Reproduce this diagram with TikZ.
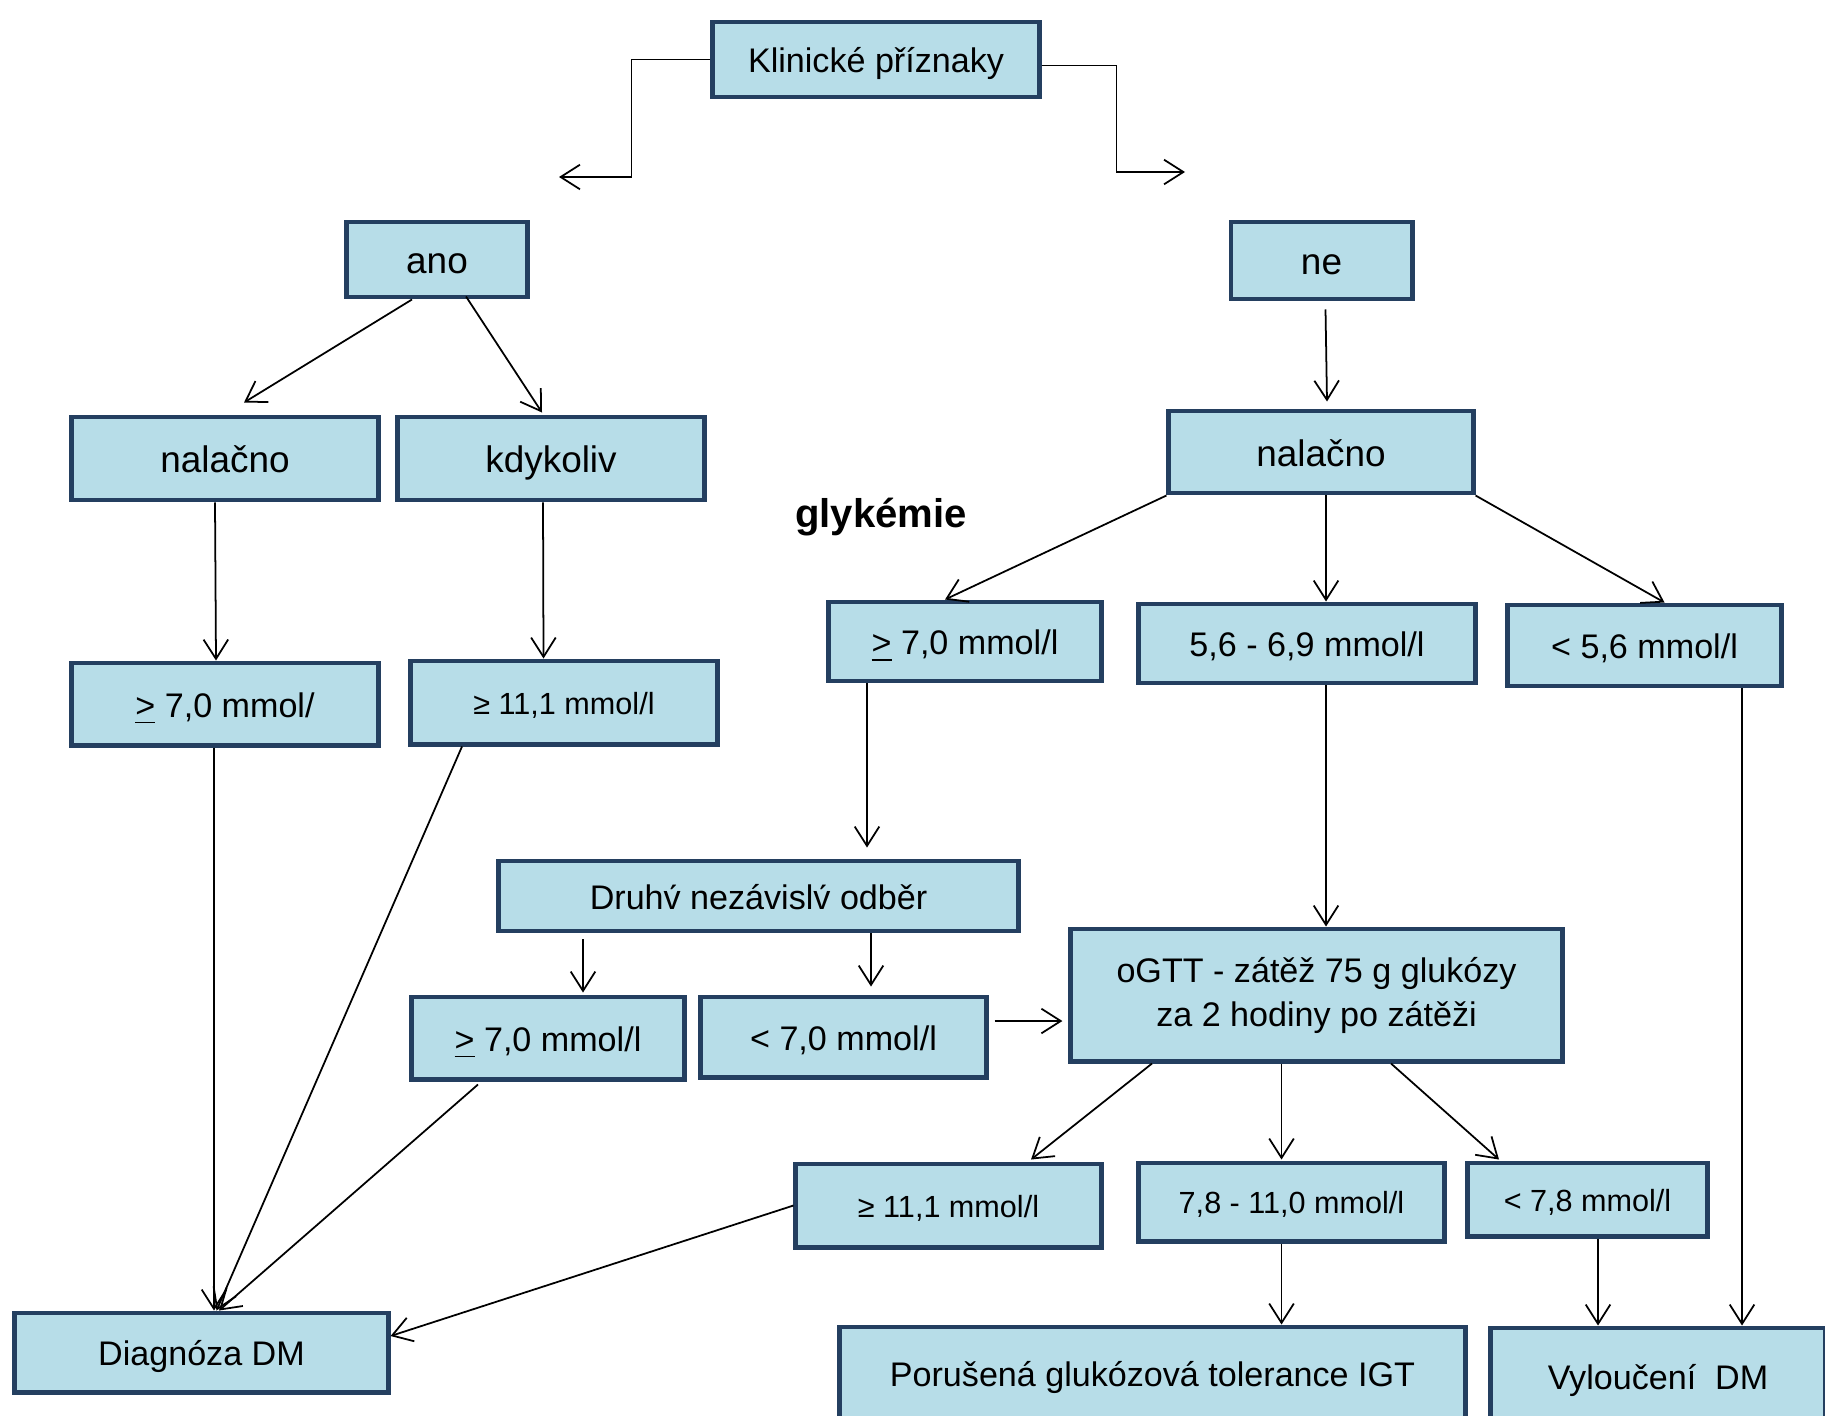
\documentclass[tikz,border=0pt]{standalone}
\usepackage{fontspec}
\setmainfont{Liberation Sans}
\usepackage{xcolor}
\usepackage{tikz}
\usetikzlibrary{arrows.meta, positioning, calc}

\definecolor{boxfill}{RGB}{183,221,232}
\definecolor{boxline}{RGB}{36,63,96}

\begin{document}
\begin{tikzpicture}[
    x=0.01cm, y=-0.01cm,
    box/.style={draw=boxline, line width=1.4pt, fill=boxfill, inner sep=0pt, align=center,
        font=\fontsize{9.7}{12.5}\selectfont, text height=7.6pt, text depth=0pt},
    bigtext/.style={font=\fontsize{10.5}{12.5}\selectfont, text height=8.2pt},
    smalltext/.style={font=\fontsize{8.7}{11}\selectfont, text height=6.8pt},
    line/.style={-{Straight Barb[length=5.5pt, width=7pt]}, line width=0.5pt}
]
\useasboundingbox (0,0) rectangle (1825,1415);

\node[box, minimum width=3.26cm, minimum height=0.75cm] (klin) at (876,59.5) {Klinické příznaky};
\coordinate (anoIn) at (559,177);
\coordinate (neIn) at (1185,172);

\node[box, bigtext, minimum width=1.8cm, minimum height=0.75cm] (ano) at (437,259.5) {ano};
\node[box, bigtext, minimum width=1.81cm, minimum height=0.77cm] (ne) at (1321.5,260.5) {ne};

\node[box, bigtext, minimum width=3.06cm, minimum height=0.83cm] (nalL) at (225,458.5) {nalačno};
\node[box, bigtext, minimum width=3.06cm, minimum height=0.83cm] (kdy) at (551,458.5) {kdykoliv};
\node[box, bigtext, minimum width=3.04cm, minimum height=0.82cm] (nalR) at (1321,452) {nalačno};

\node[font=\bfseries\fontsize{11.4}{13}\selectfont] (glyk) at (881,517) {glykémie};

\node[box, minimum width=3.06cm, minimum height=0.82cm] (gL) at (225,704) {\underline{>} 7,0 mmol/};
\node[box, smalltext, minimum width=3.06cm, minimum height=0.83cm] (g11) at (564,702.5) {≥ 11,1 mmol/l};
\node[box, minimum width=2.72cm, minimum height=0.79cm] (gM) at (965,641.5) {\underline{>} 7,0 mmol/l};
\node[box, minimum width=3.36cm, minimum height=0.79cm] (mid) at (1307,643.5) {5,6 - 6,9 mmol/l};
\node[box, minimum width=2.73cm, minimum height=0.81cm] (lt56) at (1644.5,645.5) {< 5,6 mmol/l};

\node[box, minimum width=5.19cm, minimum height=0.70cm] (druhy) at (758.5,896) {Druh\'v nez\'avisl\'v odběr};
\node[box, minimum width=2.72cm, minimum height=0.82cm] (g7b) at (548,1038) {\underline{>} 7,0 mmol/l};
\node[box, minimum width=2.85cm, minimum height=0.80cm] (lt7) at (843.5,1037) {< 7,0 mmol/l};
\node[box, text height=, text depth=, minimum width=4.91cm, minimum height=1.32cm] (ogtt) at (1316.5,995) {oGTT - zátěž 75 g glukózy\\za 2 hodiny po zátěži};

\node[box, smalltext, minimum width=3.05cm, minimum height=0.83cm] (g11b) at (948.5,1205.5) {≥ 11,1 mmol/l};
\node[box, smalltext, minimum width=3.05cm, minimum height=0.78cm] (r78) at (1291.5,1202) {7,8 - 11,0 mmol/l};
\node[box, smalltext, minimum width=2.39cm, minimum height=0.73cm] (lt78) at (1587.5,1199.5) {< 7,8 mmol/l};

\node[box, minimum width=3.73cm, minimum height=0.79cm] (diag) at (201.5,1352.5) {Diagnóza DM};
\node[box, minimum width=6.25cm, minimum height=0.92cm] (igt) at (1152.5,1373) {Porušená glukózová tolerance IGT};
\node[box, minimum width=3.34cm, minimum height=0.96cm] (vyl) at (1658,1376) {Vyloučení\ \ DM};

\draw[line] (klin.west) -- ++(-79,0) |- (anoIn);
\draw[line] ($(klin.east)+(0,6)$) -- ++(75,0) |- (neIn);
\draw[line] ($(ano.south)+(-25,0)$) -- ($(nalL.north)+(19,-12)$);
\draw[line] ($(ano.south)+(29,-3)$) -- ($(kdy.north)+(-9,-2)$);
\draw[line] ($(ne.south)+(4,8)$) -- ($(nalR.north)+(6,-7)$);
\draw[line] ($(nalL.south)+(-10,0)$) -- ($(gL.north)+(-9,0)$);
\draw[line] ($(kdy.south)+(-8,0)$) -- ($(g11.north)+(-20.5,0)$);
\draw[line] (nalR.south west) -- ($(gM.north)+(-20,0)$);
\draw[line] ($(nalR.south)+(5,0)$) -- ($(mid.north)+(19,0)$);
\draw[line] (nalR.south east) -- ($(lt56.north)+(20,0)$);
\draw[line] ($(gM.south)+(-98,0)$) -- ($(druhy.north)+(108.5,-11)$);
\draw[line] ($(mid.south)+(19,0)$) -- ($(ogtt.north)+(9.5,0)$);
\draw[line] ($(lt56.south)+(97.5,0)$) -- ($(vyl.north)+(84,0)$);
\draw[line] ($(druhy.south)+(-175.5,6)$) -- ($(g7b.north)+(35,-2)$);
\draw[line] ($(druhy.south)+(112.5,0)$) -- ($(lt7.north)+(27.5,-8)$);
\draw[line] ($(lt7.east)+(6,-16)$) -- ($(ogtt.west)+(-6,26)$);
\draw[line] ($(g11.south)+(-102,0)$) -- ($(diag.north)+(15,0)$);
\draw[line] ($(gL.south)+(-11,0)$) -- ($(diag.north)+(12.5,0)$);
\draw[line] ($(g7b.south)+(-70,3)$) -- ($(diag.north)+(17.5,0)$);
\draw[line] (g11b.west) -- ($(diag.east)+(0,-16.5)$);
\draw[line] ($(ogtt.south)+(-164.5,0)$) -- ($(g11b.north)+(82.5,-2)$);
\draw[line] ($(ogtt.south)+(-35,0)$) -- ($(r78.north)+(-10,-1)$);
\draw[line] ($(ogtt.south)+(74.5,0)$) -- ($(lt78.north)+(-88.5,-1)$);
\draw[line] ($(r78.south)+(-10,0)$) -- ($(igt.north)+(129,0)$);
\draw[line] ($(lt78.south)+(10.5,0)$) -- ($(vyl.north)+(-60,0)$);

\end{tikzpicture}
\end{document}
